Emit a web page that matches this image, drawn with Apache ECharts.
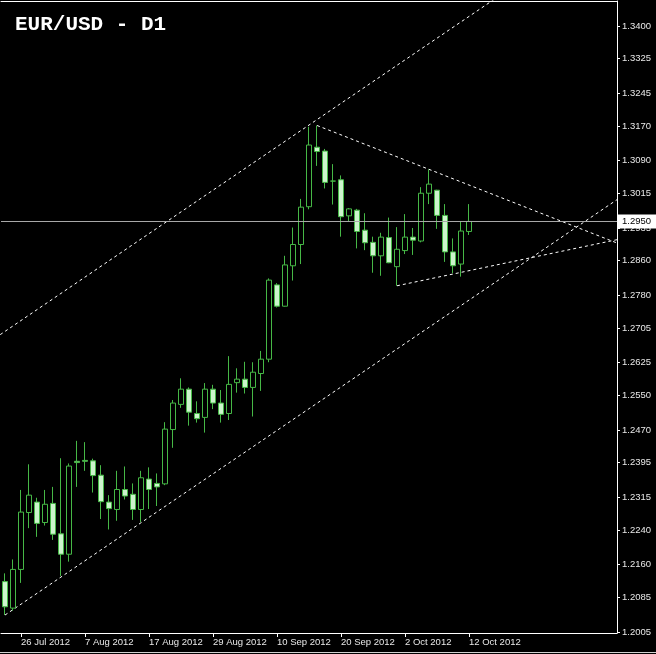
<!DOCTYPE html>
<html><head><meta charset="utf-8">
<script src="https://cdn.jsdelivr.net/npm/echarts@6/dist/echarts.min.js"></script>
<style>html,body{margin:0;padding:0;background:#000;}#c{width:656px;height:654px;}</style>
</head><body><div id="c"></div>
<script>
const chartTitle = 'EUR/USD - D1';
const dates = ['24 Jul 2012','25 Jul 2012','26 Jul 2012','27 Jul 2012','30 Jul 2012','31 Jul 2012',
 '1 Aug 2012','2 Aug 2012','3 Aug 2012','6 Aug 2012','7 Aug 2012','8 Aug 2012','9 Aug 2012','10 Aug 2012',
 '13 Aug 2012','14 Aug 2012','15 Aug 2012','16 Aug 2012','17 Aug 2012','20 Aug 2012','21 Aug 2012',
 '22 Aug 2012','23 Aug 2012','24 Aug 2012','27 Aug 2012','28 Aug 2012','29 Aug 2012','30 Aug 2012',
 '31 Aug 2012','3 Sep 2012','4 Sep 2012','5 Sep 2012','6 Sep 2012','7 Sep 2012','10 Sep 2012',
 '11 Sep 2012','12 Sep 2012','13 Sep 2012','14 Sep 2012','17 Sep 2012','18 Sep 2012','19 Sep 2012',
 '20 Sep 2012','21 Sep 2012','24 Sep 2012','25 Sep 2012','26 Sep 2012','27 Sep 2012','28 Sep 2012',
 '1 Oct 2012','2 Oct 2012','3 Oct 2012','4 Oct 2012','5 Oct 2012','8 Oct 2012','9 Oct 2012',
 '10 Oct 2012','11 Oct 2012','12 Oct 2012'];
const openP = [1.2121,1.2060,1.2149,1.2280,1.2304,1.2257,1.2301,1.2231,1.2184,1.2398,1.2400,1.2399,1.2366,1.2304,
 1.2287,1.2333,1.2322,1.2287,1.2357,1.2347,1.2346,1.2471,1.2529,1.2564,1.2508,1.2499,1.2564,1.2532,1.2508,
 1.2579,1.2587,1.2568,1.2600,1.2633,1.2804,1.2755,1.2848,1.2897,1.2984,1.3121,1.3112,1.3043,1.3046,1.2963,
 1.2976,1.2930,1.2902,1.2871,1.2913,1.2846,1.2883,1.2914,1.2905,1.3015,1.3022,1.2964,1.2880,1.2852,1.2927];
const highP = [1.2140,1.2172,1.2332,1.2391,1.2314,1.2332,1.2339,1.2405,1.2393,1.2445,1.2442,1.2404,1.2389,1.2320,
 1.2376,1.2386,1.2347,1.2376,1.2384,1.2370,1.2488,1.2539,1.2589,1.2568,1.2536,1.2578,1.2574,1.2562,1.2640,
 1.2612,1.2627,1.2626,1.2652,1.2819,1.2808,1.2871,1.2936,1.3002,1.3168,1.3171,1.3117,1.3082,1.3056,1.2981,
 1.2979,1.2969,1.2915,1.2924,1.2959,1.2937,1.2967,1.2935,1.3029,1.3070,1.3023,1.2990,1.2911,1.2950,1.2990];
const lowP = [1.2044,1.2054,1.2118,1.2244,1.2224,1.2250,1.2217,1.2134,1.2167,1.2339,1.2376,1.2326,1.2265,1.2241,
 1.2261,1.2310,1.2263,1.2258,1.2288,1.2295,1.2343,1.2429,1.2521,1.2480,1.2487,1.2464,1.2518,1.2487,1.2493,
 1.2556,1.2554,1.2501,1.2560,1.2626,1.2752,1.2754,1.2814,1.2852,1.2978,1.3078,1.3026,1.2989,1.2915,1.2951,
 1.2888,1.2884,1.2832,1.2825,1.2854,1.2802,1.2875,1.2873,1.2902,1.2990,1.2933,1.2857,1.2831,1.2823,1.2919];
const closeP = [1.2063,1.2149,1.2281,1.2320,1.2255,1.2299,1.2230,1.2184,1.2387,1.2395,1.2398,1.2365,1.2305,1.2289,
 1.2333,1.2318,1.2287,1.2360,1.2333,1.2339,1.2472,1.2532,1.2564,1.2511,1.2496,1.2564,1.2532,1.2506,1.2575,
 1.2587,1.2568,1.2603,1.2633,1.2815,1.2755,1.2850,1.2897,1.2983,1.3126,1.3111,1.3040,1.3043,1.2961,1.2979,
 1.2927,1.2901,1.2871,1.2914,1.2855,1.2886,1.2914,1.2907,1.3015,1.3036,1.2964,1.2880,1.2848,1.2928,1.2950];
const yTickLabels = [1.2005,1.2085,1.2160,1.2240,1.2315,1.2395,1.2470,1.2550,1.2625,1.2705,1.2780,1.2860,
 1.2935,1.3015,1.3090,1.3170,1.3245,1.3325,1.3400];
// trendline anchors: [barIndex1, price1, barIndex2, price2]
const channelLower = [0, 1.2044, 40, 1.2544];
const channelUpper = [0, 1.2697, 40, 1.3197];
const triangleUpper = [39, 1.3171, 53, 1.3070];
const triangleLower = [49, 1.2802, 56, 1.2829];

const PAD = 18;
const cats = dates.concat(Array.from({length: PAD}, (_, i) => 'pad' + i));
const N = cats.length;
const yMin = 1.200267, yMax = 1.345755;
const labelEvery = 8, labelStart = 2;

function ray(a, xStart, xEnd) {
  const slope = (a[3] - a[1]) / (a[2] - a[0]);
  return [[xStart, a[1] + slope * (xStart - a[0])], [xEnd, a[1] + slope * (xEnd - a[0])]];
}
const fontFam = '"Liberation Sans", Arial, sans-serif';
const green = '#46b846';
const lineSeries = (a, xStart) => ({
  type: 'line', xAxisIndex: 1, yAxisIndex: 0, data: ray(a, xStart, N + 4),
  showSymbol: false, symbol: 'none', silent: true, clip: true, z: 3,
  lineStyle: { color: '#ffffff', width: 1, type: [3, 3] }
});
const lastClose = closeP[closeP.length - 1];

const chart = echarts.init(document.getElementById('c'), null, { renderer: 'canvas' });
chart.setOption({
  backgroundColor: '#000000',
  animation: false,
  title: { text: chartTitle, left: 10, top: 9,
    textStyle: { color: '#ffffff', fontFamily: '"Liberation Mono", "Courier New", monospace', fontWeight: 'bold', fontSize: 21 } },
  grid: { left: 1, right: 39, top: 1, bottom: 21, containLabel: false },
  xAxis: [{
    type: 'category', data: cats, boundaryGap: true, position: 'bottom',
    axisLine: { show: true, lineStyle: { color: '#ffffff', width: 1 } },
    axisTick: { show: true, length: 4, alignWithLabel: true, lineStyle: { color: '#ffffff' },
      interval: (i) => i < dates.length && (i - labelStart) % labelEvery === 0 },
    axisLabel: { show: true, align: 'left', margin: 4, color: '#e8e8e8', fontFamily: fontFam, fontSize: 9.5,
      interval: (i) => i < dates.length && (i - labelStart) % labelEvery === 0 },
    splitLine: { show: false }
  }, {
    type: 'value', min: -0.5, max: N - 0.5, position: 'top',
    axisLine: { show: true, onZero: false, lineStyle: { color: '#ffffff', width: 1 } },
    axisTick: { show: false }, axisLabel: { show: false }, splitLine: { show: false }
  }],
  yAxis: [{
    type: 'value', position: 'right', min: yMin, max: yMax, scale: true,
    axisLine: { show: true, onZero: false, lineStyle: { color: '#ffffff', width: 1 } },
    axisTick: { show: true, length: 3, customValues: yTickLabels, lineStyle: { color: '#ffffff' } },
    axisLabel: { show: true, customValues: yTickLabels, margin: 5, color: '#e8e8e8', fontFamily: fontFam, fontSize: 9.5,
      formatter: (v) => Number(v).toFixed(4) },
    splitLine: { show: false }
  }],
  series: [{
    type: 'candlestick', xAxisIndex: 0, yAxisIndex: 0, barWidth: 5, z: 4,
    data: dates.map((d, i) => [openP[i], closeP[i], lowP[i], highP[i]]),
    itemStyle: { color: '#000000', color0: '#cdf4cd', borderColor: green, borderColor0: green,
      borderColorDoji: green, borderWidth: 1 },
    markLine: {
      silent: true, symbol: ['none', 'none'], animation: false, precision: 4,
      data: [{ yAxis: lastClose }],
      lineStyle: { color: '#a8a8a8', type: 'solid', width: 1 },
      label: { show: true, position: 'end', distance: 1, formatter: lastClose.toFixed(4),
        backgroundColor: '#ffffff', color: '#000000', fontFamily: fontFam, fontSize: 9.5, padding: [2, 6, 2, 4] },
      emphasis: { disabled: true }
    }
  },
  lineSeries(channelLower, 0), lineSeries(channelUpper, -0.6), lineSeries(triangleUpper, 39), lineSeries(triangleLower, 49)],
  graphic: [{ type: 'line', silent: true, shape: { x1: 0, y1: 652.5, x2: 656, y2: 652.5 },
    style: { stroke: '#d0d0d0', lineWidth: 1 } }]
});
</script></body></html>
